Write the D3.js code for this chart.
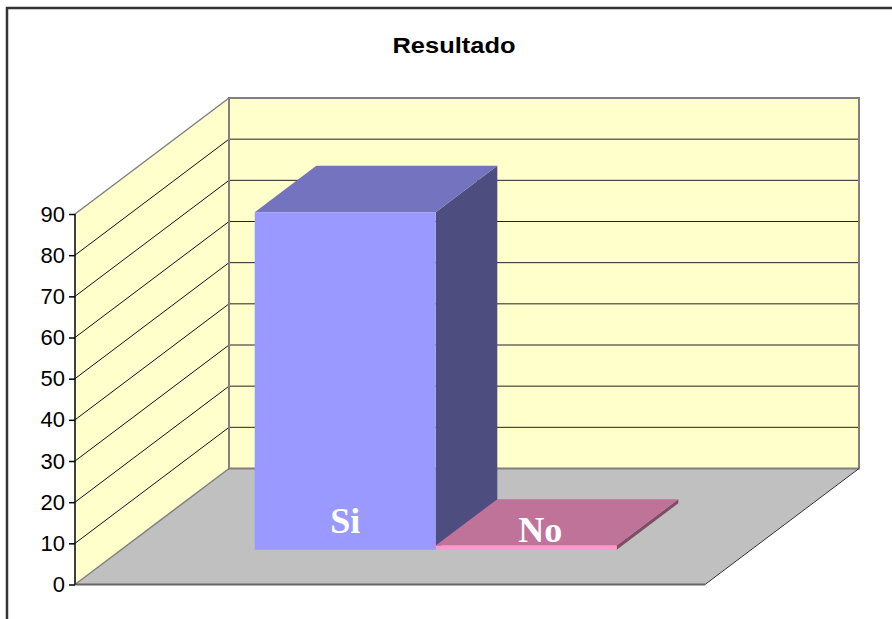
<!DOCTYPE html>
<html>
<head>
<meta charset="utf-8">
<script src="https://cdn.jsdelivr.net/npm/d3@7"></script>
<style>
  html, body { margin: 0; padding: 0; background: #fff; }
  svg { display: block; }
</style>
</head>
<body>
<svg width="892" height="619"></svg>
<script>
// data
var chartTitle = "Resultado";
var seriesNames = ["Si", "No"];
var seriesValues = [82, 1];
var yTicks = [0, 10, 20, 30, 40, 50, 60, 70, 80, 90];

var frontColors = ["#9999FF", "#FF99CC"];

var svg = d3.select("svg");

// outer chart frame
svg.append("path")
    .attr("d", "M7,625 L7,8 L900,8")
    .attr("fill", "none")
    .attr("stroke", "#333")
    .attr("stroke-width", 2.5);

// title
svg.append("text")
    .attr("x", 454)
    .attr("y", 53)
    .attr("text-anchor", "middle")
    .attr("font-family", "Liberation Sans, Arial, sans-serif")
    .attr("font-weight", "bold")
    .attr("font-size", 22)
    .attr("textLength", 123)
    .attr("lengthAdjust", "spacingAndGlyphs")
    .text(chartTitle);

// 3d box: front plane + depth offset
var depthX = 154, depthY = -116;
var floorLeft = 75, floorRight = 705;

var y = d3.scaleLinear()
    .domain([0, 90])
    .range([584.5, 214]);

// the two bars sit side by side in the single category
var x = d3.scaleBand()
    .domain(seriesNames)
    .range([208.5, 570.5])
    .padding(0);

var zFront = 0.30, zBack = 0.70;

function proj(px, py, z) {
    return [px + z * depthX, py + z * depthY];
}
function poly(pts) {
    return "M" + pts.map(function (p) { return p[0] + "," + p[1]; }).join("L") + "Z";
}

var y0 = y(0), yTop = y(90);

// floor
svg.append("path")
    .attr("d", poly([proj(floorLeft, y0, 0), proj(floorRight, y0, 0), proj(floorRight, y0, 1), proj(floorLeft, y0, 1)]))
    .attr("fill", "#C0C0C0")
    .attr("stroke", "none");

// back wall
svg.append("path")
    .attr("d", poly([proj(floorLeft, y0, 1), proj(floorRight, y0, 1), proj(floorRight, yTop, 1), proj(floorLeft, yTop, 1)]))
    .attr("fill", "#FFFFCC")
    .attr("stroke", "none");

// side wall
svg.append("path")
    .attr("d", poly([proj(floorLeft, y0, 0), proj(floorLeft, yTop, 0), proj(floorLeft, yTop, 1), proj(floorLeft, y0, 1)]))
    .attr("fill", "#FFFFCC")
    .attr("stroke", "none");

// gridlines (10..80)
var inner = yTicks.filter(function (t) { return t > 0 && t < 90; });
svg.selectAll(".gridBack")
    .data(inner)
    .enter().append("line")
    .attr("class", "gridBack")
    .attr("x1", floorLeft + depthX)
    .attr("x2", floorRight + depthX)
    .attr("y1", function (d) { return y(d) + depthY; })
    .attr("y2", function (d) { return y(d) + depthY; })
    .attr("stroke", "#222")
    .attr("stroke-width", 1);

svg.selectAll(".gridSide")
    .data(inner)
    .enter().append("line")
    .attr("class", "gridSide")
    .attr("x1", floorLeft)
    .attr("x2", floorLeft + depthX)
    .attr("y1", function (d) { return y(d); })
    .attr("y2", function (d) { return y(d) + depthY; })
    .attr("stroke", "#111")
    .attr("stroke-width", 1);

// wall edges
var edge = "#808080";
svg.append("path")
    .attr("d", "M" + proj(floorLeft, y0, 1) + "L" + proj(floorRight, y0, 1) + "L" + proj(floorRight, yTop, 1)
        + "L" + proj(floorLeft, yTop, 1) + "Z")
    .attr("fill", "none").attr("stroke", edge).attr("stroke-width", 2);
svg.append("path")
    .attr("d", "M" + proj(floorLeft, yTop, 0) + "L" + proj(floorLeft, yTop, 1))
    .attr("fill", "none").attr("stroke", edge).attr("stroke-width", 1.5);
svg.append("path")
    .attr("d", "M" + proj(floorLeft, y0, 0) + "L" + proj(floorLeft, y0, 1))
    .attr("fill", "none").attr("stroke", edge).attr("stroke-width", 1.5);
svg.append("path")
    .attr("d", "M" + proj(floorLeft, y0, 0) + "L" + proj(floorRight, y0, 0))
    .attr("fill", "none").attr("stroke", "#666").attr("stroke-width", 2);
svg.append("path")
    .attr("d", "M" + proj(floorRight, y0, 0) + "L" + proj(floorRight, y0, 1))
    .attr("fill", "none").attr("stroke", "#333").attr("stroke-width", 1);

// bars
var bars = seriesNames.map(function (name, i) {
    return { name: name, value: seriesValues[i], color: frontColors[i] };
});

bars.forEach(function (b) {
    var xl = x(b.name), xr = x(b.name) + x.bandwidth();
    var yb = y(0), yt = y(b.value);
    var c = d3.color(b.color);
    var topC = d3.rgb(c.r * 0.75, c.g * 0.75, c.b * 0.75);
    var sideC = d3.rgb(c.r * 0.5, c.g * 0.5, c.b * 0.5);
    var g = svg.append("g").attr("class", "bar");
    // side
    g.append("path")
        .attr("d", poly([proj(xr, yb, zFront), proj(xr, yt, zFront), proj(xr, yt, zBack), proj(xr, yb, zBack)]))
        .attr("fill", sideC);
    // top
    g.append("path")
        .attr("d", poly([proj(xl, yt, zFront), proj(xr, yt, zFront), proj(xr, yt, zBack), proj(xl, yt, zBack)]))
        .attr("fill", topC);
    // front
    g.append("path")
        .attr("d", poly([proj(xl, yb, zFront), proj(xr, yb, zFront), proj(xr, yt, zFront), proj(xl, yt, zFront)]))
        .attr("fill", b.color);
});

// data labels
var labelPos = [
    function (b) { var p = proj(x(b.name) + x.bandwidth() / 2, y(0), zFront); return [p[0], p[1] - 17]; },
    function (b) { var p = proj(x(b.name) + x.bandwidth() / 2, y(b.value), zFront); return [p[0] + 14, p[1] - 4]; }
];
svg.selectAll(".lbl")
    .data(bars)
    .enter().append("text")
    .attr("class", "lbl")
    .attr("x", function (d, i) { return labelPos[i](d)[0]; })
    .attr("y", function (d, i) { return labelPos[i](d)[1]; })
    .attr("text-anchor", "middle")
    .attr("font-family", "Liberation Serif, Times New Roman, serif")
    .attr("font-weight", "bold")
    .attr("font-size", 36)
    .attr("fill", "#fff")
    .text(function (d) { return d.name; });

// value axis on the front edge
var axis = d3.axisLeft(y)
    .tickValues(yTicks)
    .tickSize(6)
    .tickPadding(4)
    .tickFormat(d3.format("d"));

var ag = svg.append("g")
    .attr("transform", "translate(" + floorLeft + ",0)")
    .call(axis);
ag.select(".domain").attr("stroke", "#000").attr("stroke-width", 1.5).attr("d", "M0," + y0 + "V" + yTop);
ag.selectAll(".tick line").attr("stroke", "#000").attr("stroke-width", 1.5);
ag.selectAll(".tick text")
    .attr("font-family", "Liberation Sans, Arial, sans-serif")
    .attr("font-size", 22)
    .attr("fill", "#000");
</script>
</body>
</html>
